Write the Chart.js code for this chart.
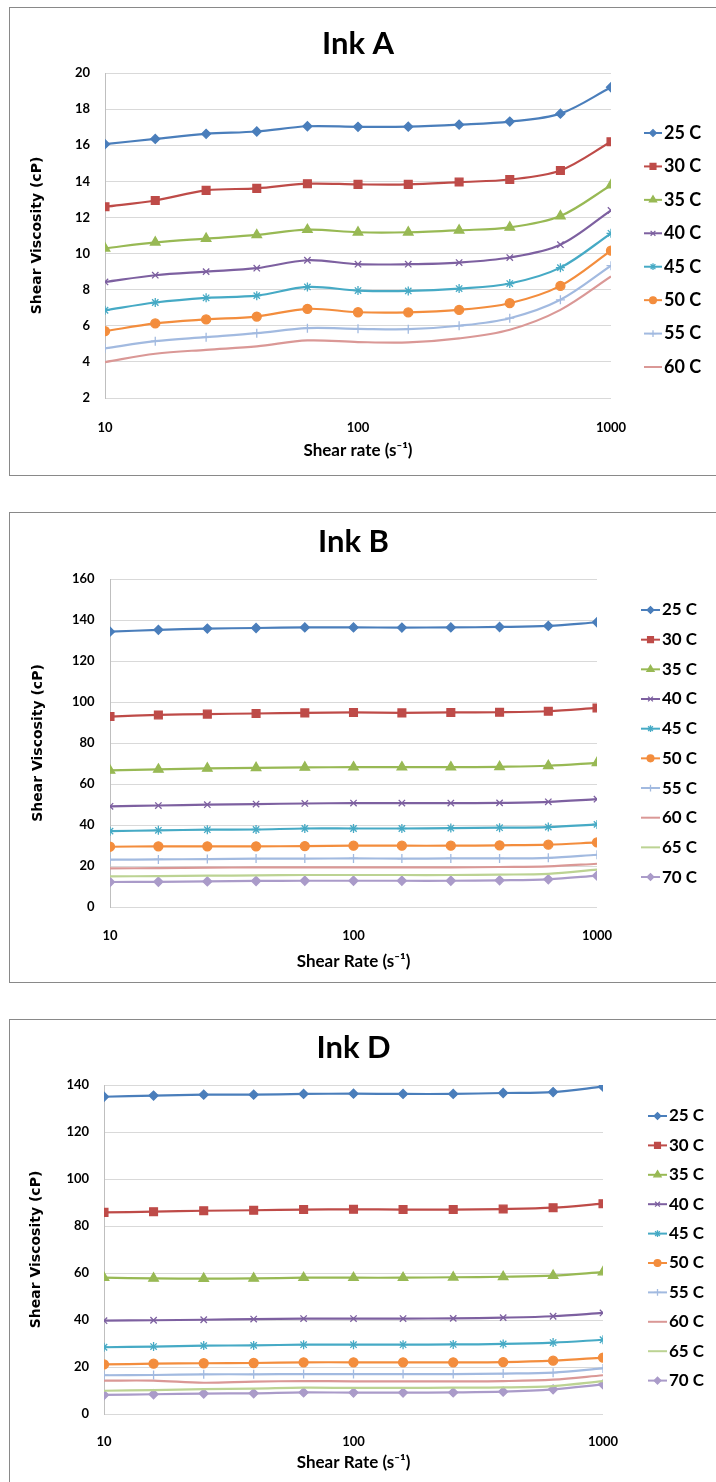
<!DOCTYPE html>
<html>
<head>
<meta charset="utf-8">
<script src="https://cdn.jsdelivr.net/npm/chart.js@4.4.1/dist/chart.umd.min.js"></script>
<style>
  html, body { margin: 0; padding: 0; background: #fff; overflow: hidden; }
  body { width: 716px; height: 1482px; position: relative; }
  .box { position: absolute; left: 9px; width: 720px; border: 1px solid #898989; box-sizing: border-box; }
  canvas { position: absolute; left: 10px; }
</style>
</head>
<body>
<div class="box" style="top:7px;height:469px"></div>
<div class="box" style="top:512px;height:471px"></div>
<div class="box" style="top:1019px;height:500px"></div>
<canvas id="inkA" width="706" height="466" style="top:8px"></canvas>
<canvas id="inkB" width="706" height="468" style="top:513px"></canvas>
<canvas id="inkD" width="706" height="462" style="top:1020px"></canvas>
<script>
// shear rates (s-1), 5 points per decade
const shearRates = [10, 15.8, 25.1, 39.8, 63.1, 100, 158, 251, 398, 631, 1000];
const xTicks = [10, 100, 1000];
const tempLabels = ['25 C', '30 C', '35 C', '40 C', '45 C', '50 C', '55 C', '60 C', '65 C', '70 C'];

// Ink A, one row per temperature (25 C .. 60 C)
const inkA = [
    [16.06, 16.35, 16.63, 16.76, 17.05, 17.02, 17.03, 17.14, 17.31, 17.75, 19.21],
    [12.59, 12.94, 13.50, 13.61, 13.87, 13.83, 13.83, 13.96, 14.10, 14.60, 16.19],
    [10.29, 10.62, 10.83, 11.03, 11.32, 11.18, 11.18, 11.29, 11.45, 12.08, 13.79],
    [8.43, 8.80, 9.00, 9.19, 9.63, 9.41, 9.41, 9.50, 9.78, 10.49, 12.39],
    [6.86, 7.29, 7.55, 7.67, 8.15, 7.95, 7.93, 8.06, 8.34, 9.22, 11.12],
    [5.70, 6.13, 6.35, 6.51, 6.94, 6.75, 6.74, 6.88, 7.25, 8.21, 10.16],
    [4.75, 5.15, 5.37, 5.59, 5.87, 5.83, 5.81, 6.00, 6.42, 7.44, 9.33],
    [3.99, 4.45, 4.67, 4.86, 5.19, 5.10, 5.08, 5.30, 5.78, 6.88, 8.73]
];

// Ink B (25 C .. 70 C)
const inkB = [
    [134.3, 135.2, 135.8, 136.1, 136.4, 136.4, 136.3, 136.4, 136.6, 137.1, 138.9],
    [92.9, 93.7, 94.1, 94.4, 94.7, 94.9, 94.7, 94.9, 95.0, 95.5, 97.1],
    [66.6, 67.1, 67.6, 67.9, 68.1, 68.2, 68.2, 68.2, 68.4, 68.9, 70.3],
    [49.1, 49.5, 49.9, 50.2, 50.5, 50.7, 50.7, 50.7, 50.8, 51.3, 52.6],
    [37.0, 37.4, 37.7, 37.8, 38.3, 38.3, 38.3, 38.5, 38.7, 39.0, 40.3],
    [29.4, 29.6, 29.6, 29.6, 29.7, 29.9, 29.9, 29.9, 30.1, 30.4, 31.5],
    [23.1, 23.2, 23.4, 23.6, 23.6, 23.7, 23.6, 23.7, 23.7, 24.0, 25.5],
    [18.8, 19.0, 19.2, 19.3, 19.3, 19.3, 19.3, 19.3, 19.5, 19.8, 21.1],
    [14.9, 15.1, 15.3, 15.4, 15.6, 15.6, 15.6, 15.6, 15.8, 16.2, 18.2],
    [12.2, 12.3, 12.5, 12.7, 12.8, 12.8, 12.8, 12.8, 13.0, 13.5, 15.3]
];

// Ink D (25 C .. 70 C)
const inkD = [
    [135.0, 135.5, 135.9, 135.9, 136.2, 136.3, 136.2, 136.2, 136.6, 137.0, 139.3],
    [85.8, 86.1, 86.5, 86.7, 87.0, 87.1, 87.0, 87.0, 87.2, 87.8, 89.5],
    [58.0, 57.7, 57.6, 57.7, 58.0, 58.0, 58.0, 58.2, 58.4, 58.9, 60.4],
    [39.7, 39.9, 40.1, 40.4, 40.6, 40.6, 40.6, 40.7, 41.0, 41.6, 43.0],
    [28.4, 28.7, 29.1, 29.2, 29.5, 29.5, 29.5, 29.6, 29.8, 30.4, 31.6],
    [21.1, 21.4, 21.6, 21.7, 22.0, 22.0, 22.0, 22.0, 22.1, 22.7, 24.0],
    [16.5, 16.6, 16.9, 16.9, 17.0, 17.0, 17.0, 17.0, 17.2, 17.6, 19.4],
    [14.2, 14.2, 13.3, 13.8, 14.0, 13.9, 13.9, 13.9, 14.0, 14.6, 16.5],
    [9.9, 10.2, 10.6, 10.8, 11.2, 11.1, 11.1, 11.2, 11.3, 11.9, 14.0],
    [8.1, 8.4, 8.7, 8.8, 9.2, 9.1, 9.1, 9.2, 9.5, 10.5, 12.6]
];

// Excel-like series styling
const seriesColors = ['#4A7EBB', '#BE4B48', '#98B954', '#7D60A0', '#46AAC5', '#F38D3D',
                      '#A2BAE0', '#DA9896', '#BCD393', '#AA9BC9'];
const markerStyles = ['rectRot', 'rect', 'triangle', 'crossRot', 'star', 'circle', 'cross', false, false, 'rectRot'];
const markerSizes = [4.5, 5.5, 5.5, 4.5, 4.5, 4.5, 4.5, 0, 0, 4.5];

// draws the Excel-style legend (line + marker + text) to the right of the plot
const sideLegend = {
    id: 'sideLegend',
    afterDraw(chart, args, opts) {
        const ctx = chart.ctx;
        chart.data.datasets.forEach((ds, i) => {
            let y = opts.y0 + i * opts.dy;
            ctx.save();
            ctx.strokeStyle = ds.borderColor;
            ctx.lineWidth = 2;
            ctx.beginPath();
            ctx.moveTo(opts.x0, y);
            ctx.lineTo(opts.x1, y);
            ctx.stroke();
            if (ds.pointStyle) {
                ctx.fillStyle = ds.backgroundColor;
                ctx.lineWidth = ds.pointBorderWidth;
                Chart.helpers.drawPoint(ctx, {
                    pointStyle: ds.pointStyle,
                    radius: ds.pointRadius * 0.75,
                    rotation: 0,
                    borderWidth: ds.pointBorderWidth
                }, (opts.x0 + opts.x1) / 2, y);
            }
            ctx.fillStyle = '#000';
            ctx.font = 'bold ' + opts.fontSize + 'px Lato';
            ctx.textBaseline = 'middle';
            ctx.fillText(ds.label, opts.tx, y);
            ctx.restore();
        });
    }
};

function createInkChart(id, title, rows, xTitle, yMin, yMax, yStep, fit) {
    let canvas = document.getElementById(id);
    let datasets = rows.map((vals, i) => ({
        label: tempLabels[i],
        data: vals.map((v, j) => ({ x: shearRates[j], y: v })),
        borderColor: seriesColors[i],
        backgroundColor: seriesColors[i],
        borderWidth: 2.2,
        pointStyle: markerStyles[i],
        pointRadius: markerSizes[i],
        pointBorderWidth: 1.3,
        tension: 0.33
    }));

    let tickFont = { family: 'Lato', weight: 'bold', size: 13 };

    return new Chart(canvas, {
        type: 'line',
        data: { datasets: datasets },
        plugins: [sideLegend],
        options: {
            responsive: false,
            animation: false,
            layout: { padding: { left: 0, top: 0, bottom: 0, right: fit.right } },
            scales: {
                x: {
                    type: 'logarithmic',
                    min: 10,
                    max: 1000,
                    afterBuildTicks: (s) => { s.ticks = xTicks.map(v => ({ value: v })); },
                    afterFit: (s) => { s.height = fit.xH; },
                    grid: { display: false },
                    border: { display: false },
                    ticks: {
                        font: tickFont, color: '#000', padding: fit.xPad,
                        maxRotation: 0, autoSkip: false,
                        callback: (v) => String(v)
                    },
                    title: {
                        display: true, text: xTitle, color: '#000',
                        font: { family: 'Lato', weight: 'bold', size: 17 },
                        padding: { top: fit.xtPad, bottom: fit.xtPad }
                    }
                },
                y: {
                    min: yMin,
                    max: yMax,
                    afterFit: (s) => { s.width = fit.yW; },
                    grid: { color: '#d9d9d9', drawTicks: false },
                    border: { display: true, color: '#bfbfbf' },
                    ticks: { stepSize: yStep, font: tickFont, color: '#000', padding: fit.yPad },
                    title: {
                        display: true, text: 'Shear Viscosity (cP)', color: '#000',
                        font: { family: 'DejaVu Sans', weight: 'bold', size: 14 },
                        padding: { top: fit.ytPad, bottom: 0 }
                    }
                }
            },
            plugins: {
                legend: { display: false },
                tooltip: { enabled: false },
                title: {
                    display: true, text: title, fullSize: false, color: '#000',
                    font: { family: 'Lato', weight: 'bold', size: 31 },
                    padding: { top: fit.tTop, bottom: fit.tBot }
                },
                sideLegend: fit.legend
            }
        }
    });
}

createInkChart('inkA', 'Ink A', inkA, 'Shear rate (s\u207B\u00B9)', 2, 20, 2, {
    right: 105, xH: 76, xPad: 14.2, xtPad: 12.8, yW: 95, yPad: 15, ytPad: 18.6,
    tTop: 17.4, tBot: 10.4,
    legend: { x0: 634, x1: 652, tx: 654, y0: 125, dy: 33.43, fontSize: 18 }
});

createInkChart('inkB', 'Ink B', inkB, 'Shear Rate (s\u207B\u00B9)', 0, 160, 20, {
    right: 119, xH: 74, xPad: 13.2, xtPad: 8.8, yW: 100, yPad: 15.5, ytPad: 19.6,
    tTop: 10.4, tBot: 18.4,
    legend: { x0: 631, x1: 650, tx: 652, y0: 97, dy: 29.67, fontSize: 17 }
});

createInkChart('inkD', 'Ink D', inkD, 'Shear Rate (s\u207B\u00B9)', 0, 140, 20, {
    right: 113, xH: 68, xPad: 12.2, xtPad: 8.8, yW: 94, yPad: 15, ytPad: 17.6,
    tTop: 9.4, tBot: 18.4,
    legend: { x0: 638, x1: 657, tx: 659, y0: 96, dy: 29.4, fontSize: 17 }
});
</script>
</body>
</html>
